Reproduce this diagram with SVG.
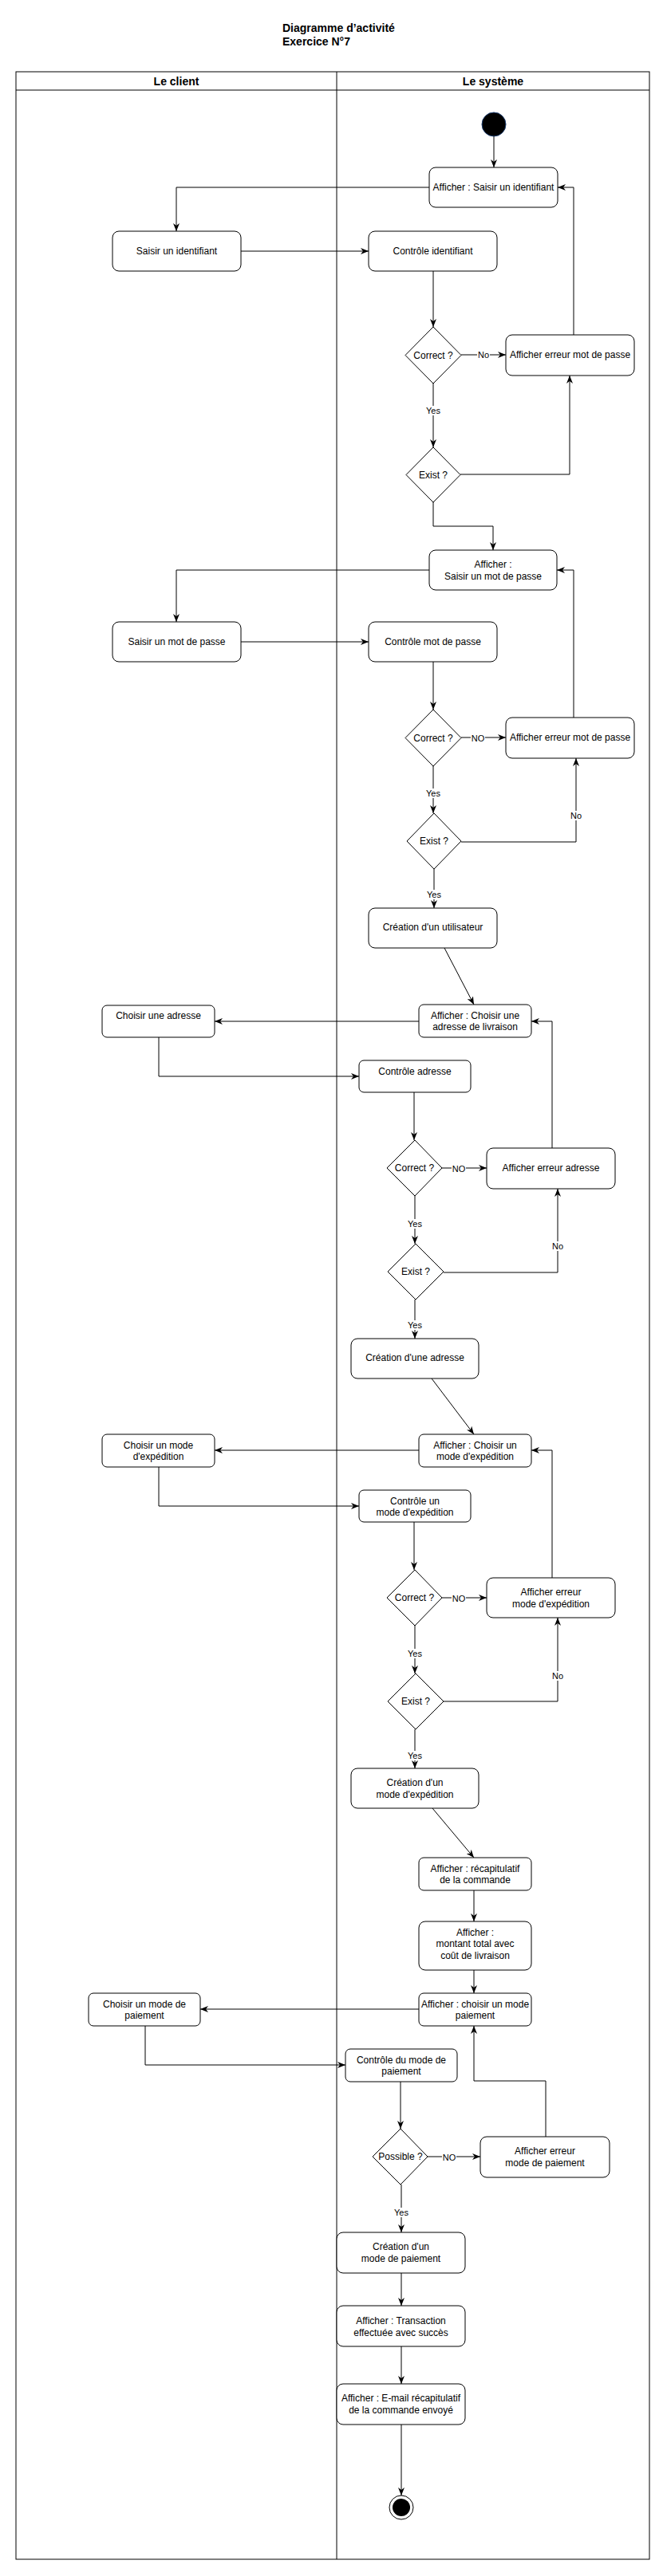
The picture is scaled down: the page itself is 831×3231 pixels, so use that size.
<svg xmlns="http://www.w3.org/2000/svg" width="831" height="3231" viewBox="0 0 831 3231">
<defs>
<marker id="arr" markerUnits="userSpaceOnUse" markerWidth="10" markerHeight="8" refX="10" refY="4" orient="auto">
<path d="M0,0 L10,4 L0,8 L3,4 z" fill="#000"/>
</marker>
<style>
text{font-family:"Liberation Sans",Arial,Helvetica,sans-serif;font-size:12px;fill:#000;}
.t{text-anchor:middle;dominant-baseline:central;}
.b{font-weight:bold;font-size:14px;}
.box{fill:#fff;stroke:#000;stroke-width:1;}
.dia{fill:#fff;stroke:#000;stroke-width:1;}
.e{fill:none;stroke:#000;stroke-width:1;marker-end:url(#arr);}
.lbg{fill:#fff;stroke:none;}
.lb{font-size:11px;text-anchor:middle;dominant-baseline:central;}
</style>
</defs>
<rect width="831" height="3231" fill="#fff"/>
<g id="title">
<text class="b" x="354" y="35" dominant-baseline="central">Diagramme d’activité</text>
<text class="b" x="354" y="52" dominant-baseline="central">Exercice N°7</text>
</g>
<g id="pool">
<rect x="20" y="90" width="794" height="3120" fill="none" stroke="#000"/>
<line x1="20" y1="113" x2="814" y2="113" stroke="#000"/>
<line x1="422" y1="90" x2="422" y2="3210" stroke="#000"/>
<text class="b t" x="221" y="102">Le client</text>
<text class="b t" x="618" y="102">Le système</text>
</g>
<g id="connectors">
<path class="e" d="M619,171 L619,210"/>
<path class="e" d="M538,235 L221,235 L221,290"/>
<path class="e" d="M302,315 L462,315"/>
<path class="e" d="M543,340 L543,410"/>
<path class="e" d="M578,445 L634,445"/>
<path class="e" d="M719,420 L719,235 L699,235"/>
<path class="e" d="M543,481 L543,561"/>
<path class="e" d="M577,595 L714,595 L714,471"/>
<path class="e" d="M543,630 L543,660 L618,660 L618,690"/>
<path class="e" d="M538,715 L221,715 L221,780"/>
<path class="e" d="M302,805 L462,805"/>
<path class="e" d="M543,830 L543,890"/>
<path class="e" d="M578,925 L634,925"/>
<path class="e" d="M719,900 L719,715 L698,715"/>
<path class="e" d="M543,961 L543,1020"/>
<path class="e" d="M578,1056 L722,1056 L722,951"/>
<path class="e" d="M544,1090 L544,1139"/>
<path class="e" d="M557,1189 L594,1260"/>
<path class="e" d="M525,1281 L269,1281"/>
<path class="e" d="M199,1301 L199,1350 L450,1350"/>
<path class="e" d="M519,1370 L519,1430"/>
<path class="e" d="M554,1465 L610,1465"/>
<path class="e" d="M692,1440 L692,1281 L666,1281"/>
<path class="e" d="M520,1500 L520,1560"/>
<path class="e" d="M556,1596 L699,1596 L699,1491"/>
<path class="e" d="M520,1630 L520,1679"/>
<path class="e" d="M541,1729 L594,1799"/>
<path class="e" d="M525,1819 L269,1819"/>
<path class="e" d="M199,1840 L199,1889 L450,1889"/>
<path class="e" d="M519,1909 L519,1969"/>
<path class="e" d="M554,2004 L610,2004"/>
<path class="e" d="M692,1979 L692,1819 L666,1819"/>
<path class="e" d="M520,2039 L520,2099"/>
<path class="e" d="M556,2134 L699,2134 L699,2029"/>
<path class="e" d="M520,2169 L520,2218"/>
<path class="e" d="M542,2268 L594,2330"/>
<path class="e" d="M594,2371 L594,2410"/>
<path class="e" d="M594,2471 L594,2500"/>
<path class="e" d="M525,2520 L251,2520"/>
<path class="e" d="M182,2541 L182,2590 L433,2590"/>
<path class="e" d="M502,2611 L502,2670"/>
<path class="e" d="M536,2705 L602,2705"/>
<path class="e" d="M684,2680 L684,2610 L594,2610 L594,2541"/>
<path class="e" d="M503,2740 L503,2800"/>
<path class="e" d="M503,2851 L503,2892"/>
<path class="e" d="M503,2943 L503,2990"/>
<path class="e" d="M503,3041 L503,3130"/>
<g id="labels">
<rect class="lbg" x="598" y="439" width="16" height="12"/><text class="lb" x="606" y="445">No</text>
<rect class="lbg" x="533" y="509" width="20" height="12"/><text class="lb" x="543" y="515">Yes</text>
<rect class="lbg" x="590" y="920" width="18" height="12"/><text class="lb" x="599" y="926">NO</text>
<rect class="lbg" x="533" y="989" width="20" height="12"/><text class="lb" x="543" y="995">Yes</text>
<rect class="lbg" x="714" y="1017" width="16" height="12"/><text class="lb" x="722" y="1023">No</text>
<rect class="lbg" x="534" y="1116" width="20" height="12"/><text class="lb" x="544" y="1122">Yes</text>
<rect class="lbg" x="566" y="1460" width="18" height="12"/><text class="lb" x="575" y="1466">NO</text>
<rect class="lbg" x="510" y="1529" width="20" height="12"/><text class="lb" x="520" y="1535">Yes</text>
<rect class="lbg" x="691" y="1557" width="16" height="12"/><text class="lb" x="699" y="1563">No</text>
<rect class="lbg" x="510" y="1656" width="20" height="12"/><text class="lb" x="520" y="1662">Yes</text>
<rect class="lbg" x="566" y="1999" width="18" height="12"/><text class="lb" x="575" y="2005">NO</text>
<rect class="lbg" x="510" y="2068" width="20" height="12"/><text class="lb" x="520" y="2074">Yes</text>
<rect class="lbg" x="691" y="2096" width="16" height="12"/><text class="lb" x="699" y="2102">No</text>
<rect class="lbg" x="510" y="2196" width="20" height="12"/><text class="lb" x="520" y="2202">Yes</text>
<rect class="lbg" x="554" y="2700" width="18" height="12"/><text class="lb" x="563" y="2706">NO</text>
<rect class="lbg" x="493" y="2769" width="20" height="12"/><text class="lb" x="503" y="2775">Yes</text>
</g>
</g>
<g id="start"><circle cx="619" cy="156" r="15" fill="#000" stroke="#1c3d6e" stroke-width="1"/></g>
<g id="n1"><rect class="box" x="538" y="210" width="161" height="50" rx="8"/><text class="t" x="618.5" y="235">Afficher : Saisir un identifiant</text></g>
<g id="n2"><rect class="box" x="141" y="290" width="161" height="50" rx="8"/><text class="t" x="221.5" y="315">Saisir un identifiant</text></g>
<g id="n3"><rect class="box" x="462" y="290" width="161" height="50" rx="8"/><text class="t" x="542.5" y="315">Contrôle identifiant</text></g>
<g id="d1"><polygon class="dia" points="543,410 578,445.5 543,481 508,445.5"/><text class="t" x="543" y="445.5">Correct ?</text></g>
<g id="n4"><rect class="box" x="634" y="420" width="161" height="51" rx="8"/><text class="t" x="714.5" y="445">Afficher erreur mot de passe</text></g>
<g id="d2"><polygon class="dia" points="543,561 577,595.5 543,630 509,595.5"/><text class="t" x="543" y="595.5">Exist ?</text></g>
<g id="n5"><rect class="box" x="538" y="690" width="160" height="50" rx="8"/><text class="t" x="618" y="708">Afficher :</text><text class="t" x="618" y="723">Saisir un mot de passe</text></g>
<g id="n6"><rect class="box" x="141" y="780" width="161" height="50" rx="8"/><text class="t" x="221.5" y="805">Saisir un mot de passe</text></g>
<g id="n7"><rect class="box" x="462" y="780" width="161" height="50" rx="8"/><text class="t" x="542.5" y="805">Contrôle mot de passe</text></g>
<g id="d3"><polygon class="dia" points="543,890 578,925.5 543,961 508,925.5"/><text class="t" x="543" y="925.5">Correct ?</text></g>
<g id="n8"><rect class="box" x="634" y="900" width="161" height="51" rx="8"/><text class="t" x="714.5" y="925">Afficher erreur mot de passe</text></g>
<g id="d4"><polygon class="dia" points="544,1020 578,1055 544,1090 510,1055"/><text class="t" x="544" y="1055">Exist ?</text></g>
<g id="n9"><rect class="box" x="462" y="1139" width="161" height="50" rx="8"/><text class="t" x="542.5" y="1163">Création d'un utilisateur</text></g>
<g id="n10"><rect class="box" x="525" y="1260" width="141" height="41" rx="6"/><text class="t" x="595.5" y="1274">Afficher : Choisir une</text><text class="t" x="595.5" y="1288">adresse de livraison</text></g>
<g id="n11"><rect class="box" x="128" y="1261" width="141" height="40" rx="6"/><text class="t" x="198.5" y="1274">Choisir une adresse</text></g>
<g id="n12"><rect class="box" x="450" y="1330" width="140" height="40" rx="6"/><text class="t" x="520" y="1344">Contrôle adresse</text></g>
<g id="d5"><polygon class="dia" points="520,1430 554,1465 520,1500 485,1465"/><text class="t" x="519.5" y="1465">Correct ?</text></g>
<g id="n13"><rect class="box" x="610" y="1440" width="161" height="51" rx="8"/><text class="t" x="690.5" y="1465">Afficher erreur adresse</text></g>
<g id="d6"><polygon class="dia" points="521,1560 556,1595 521,1630 486,1595"/><text class="t" x="521" y="1595">Exist ?</text></g>
<g id="n14"><rect class="box" x="440" y="1679" width="160" height="50" rx="8"/><text class="t" x="520" y="1703">Création d'une adresse</text></g>
<g id="n15"><rect class="box" x="525" y="1799" width="141" height="41" rx="6"/><text class="t" x="595.5" y="1813">Afficher : Choisir un</text><text class="t" x="595.5" y="1827">mode d'expédition</text></g>
<g id="n16"><rect class="box" x="128" y="1799" width="141" height="41" rx="6"/><text class="t" x="198.5" y="1813">Choisir un mode</text><text class="t" x="198.5" y="1827">d'expédition</text></g>
<g id="n17"><rect class="box" x="450" y="1869" width="140" height="40" rx="6"/><text class="t" x="520" y="1883">Contrôle un</text><text class="t" x="520" y="1897">mode d'expédition</text></g>
<g id="d7"><polygon class="dia" points="520,1969 554,2004 520,2039 485,2004"/><text class="t" x="519.5" y="2004">Correct ?</text></g>
<g id="n18"><rect class="box" x="610" y="1979" width="161" height="50" rx="8"/><text class="t" x="690.5" y="1997">Afficher erreur</text><text class="t" x="690.5" y="2012">mode d'expédition</text></g>
<g id="d8"><polygon class="dia" points="521,2099 556,2134 521,2169 486,2134"/><text class="t" x="521" y="2134">Exist ?</text></g>
<g id="n19"><rect class="box" x="440" y="2218" width="160" height="50" rx="8"/><text class="t" x="520" y="2236">Création d'un</text><text class="t" x="520" y="2251">mode d'expédition</text></g>
<g id="n20"><rect class="box" x="525" y="2330" width="141" height="41" rx="6"/><text class="t" x="595.5" y="2344">Afficher : récapitulatif</text><text class="t" x="595.5" y="2358">de la commande</text></g>
<g id="n21"><rect class="box" x="525" y="2410" width="141" height="61" rx="8"/><text class="t" x="595.5" y="2424">Afficher :</text><text class="t" x="595.5" y="2438">montant total avec</text><text class="t" x="595.5" y="2453">coût de livraison</text></g>
<g id="n22"><rect class="box" x="525" y="2500" width="141" height="41" rx="6"/><text class="t" x="595.5" y="2514">Afficher : choisir un mode</text><text class="t" x="595.5" y="2528">paiement</text></g>
<g id="n23"><rect class="box" x="111" y="2500" width="140" height="41" rx="6"/><text class="t" x="181" y="2514">Choisir un mode de</text><text class="t" x="181" y="2528">paiement</text></g>
<g id="n24"><rect class="box" x="433" y="2570" width="140" height="41" rx="6"/><text class="t" x="503" y="2584">Contrôle du mode de</text><text class="t" x="503" y="2598">paiement</text></g>
<g id="d9"><polygon class="dia" points="502,2670 536,2705 502,2740 467,2705"/><text class="t" x="502" y="2705">Possible ?</text></g>
<g id="n25"><rect class="box" x="602" y="2680" width="162" height="51" rx="8"/><text class="t" x="683" y="2698">Afficher erreur</text><text class="t" x="683" y="2713">mode de paiement</text></g>
<g id="n26"><rect class="box" x="422" y="2800" width="161" height="51" rx="8"/><text class="t" x="502.5" y="2818">Création d'un</text><text class="t" x="502.5" y="2833">mode de paiement</text></g>
<g id="n27"><rect class="box" x="422" y="2892" width="161" height="51" rx="8"/><text class="t" x="502.5" y="2911">Afficher : Transaction</text><text class="t" x="502.5" y="2926">effectuée avec succès</text></g>
<g id="n28"><rect class="box" x="422" y="2990" width="161" height="51" rx="8"/><text class="t" x="502.5" y="3008">Afficher : E-mail récapitulatif</text><text class="t" x="502.5" y="3023">de la commande envoyé</text></g>
<g id="end"><circle cx="503" cy="3145" r="15" fill="#fff" stroke="#000"/><circle cx="503" cy="3145" r="11" fill="#000"/></g>
</svg>
